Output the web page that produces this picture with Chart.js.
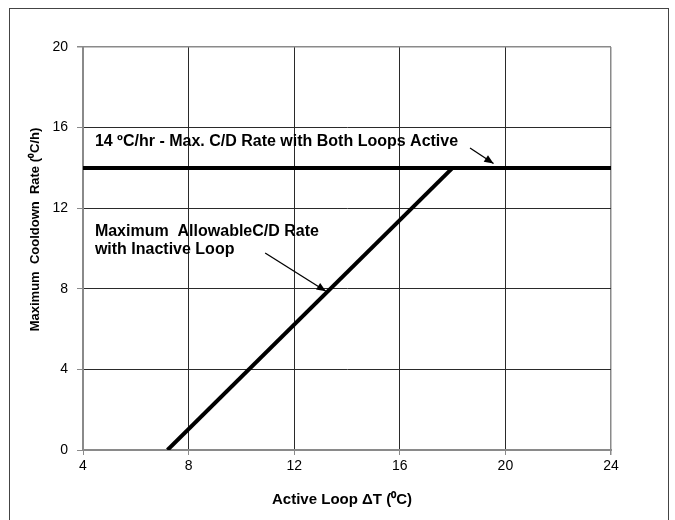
<!DOCTYPE html>
<html><head><meta charset="utf-8">
<script src="https://cdn.jsdelivr.net/npm/chart.js@4/dist/chart.umd.min.js"></script>
<style>html,body{margin:0;padding:0;background:#fff}canvas{display:block}</style>
</head><body>
<canvas id="c" width="675" height="520"></canvas>
<script>
// Data
const xTicks = [4, 8, 12, 16, 20, 24];
const yTicks = [0, 4, 8, 12, 16, 20];
const bothLoopsX = [4, 24];
const bothLoopsY = [14, 14];
const inactiveX = [7.2, 18.0];
const inactiveY = [0, 14];
const xTitle = 'Active Loop \u0394T (\u2070C)';
const yTitle = 'Maximum  Cooldown  Rate (\u2070C/h)';
const notes = [
  {lines: ['14 \u00BAC/hr - Max. C/D Rate with Both Loops Active'], x: 4.45, y: 15.1, ax: [18.66, 14.99], tip: [19.55, 14.22]},
  {lines: ['Maximum  AllowableC/D Rate', 'with Inactive Loop'], x: 4.45, y: 10.62, ax: [10.9, 9.78], tip: [13.2, 7.88]}
];

const font = 'Liberation Sans, Arial, sans-serif';
const toPts = (xs, ys) => xs.map((x, i) => ({x, y: ys[i]}));

const extras = {
  id: 'extras',
  afterDatasetsDraw(chart) {
    const {ctx, scales: {x, y}} = chart;
    ctx.save();
    ctx.fillStyle = '#000';
    ctx.strokeStyle = '#000';
    ctx.font = 'bold 16px ' + font;
    ctx.textBaseline = 'alphabetic';
    ctx.textAlign = 'left';
    notes.forEach(n => {
      n.lines.forEach((t, i) => ctx.fillText(t, x.getPixelForValue(n.x), y.getPixelForValue(n.y) + i * 18));
      const x0 = x.getPixelForValue(n.ax[0]), y0 = y.getPixelForValue(n.ax[1]);
      const x1 = x.getPixelForValue(n.tip[0]), y1 = y.getPixelForValue(n.tip[1]);
      ctx.lineWidth = 1.3;
      ctx.beginPath(); ctx.moveTo(x0, y0); ctx.lineTo(x1, y1); ctx.stroke();
      const a = Math.atan2(y1 - y0, x1 - x0), L = 10, w = 0.4;
      ctx.beginPath();
      ctx.moveTo(x1, y1);
      ctx.lineTo(x1 - L * Math.cos(a - w), y1 - L * Math.sin(a - w));
      ctx.lineTo(x1 - L * Math.cos(a + w), y1 - L * Math.sin(a + w));
      ctx.closePath(); ctx.fill();
    });
    // x axis title
    ctx.font = 'bold 15px ' + font;
    ctx.textAlign = 'center';
    ctx.textBaseline = 'alphabetic';
    ctx.fillText(xTitle, (x.left + x.right) / 2 - 5, 504);
    // y axis title (offset upward like the reference)
    ctx.font = 'bold 13px ' + font;
    ctx.textBaseline = 'middle';
    ctx.translate(35, (y.top + y.bottom) / 2 - 19);
    ctx.rotate(-Math.PI / 2);
    ctx.fillText(yTitle, 0, 0);
    ctx.restore();
  },
  afterDraw(chart) {
    const ctx = chart.ctx;
    ctx.save();
    ctx.strokeStyle = '#444';
    ctx.lineWidth = 1;
    ctx.strokeRect(9.5, 8.5, 659, 530);
    ctx.restore();
  }
};

const edgeColor = '#8a8a8a';
new Chart(document.getElementById('c'), {
  type: 'scatter',
  data: {
    datasets: [
      {data: toPts(bothLoopsX, bothLoopsY), showLine: true, borderColor: '#000', borderWidth: 4, pointRadius: 0, borderCapStyle: 'butt'},
      {data: toPts(inactiveX, inactiveY), showLine: true, borderColor: '#000', borderWidth: 4, pointRadius: 0, borderCapStyle: 'butt'}
    ]
  },
  options: {
    responsive: false,
    animation: false,
    events: [],
    layout: {padding: {left: 10, right: 64, top: 47, bottom: 10}},
    plugins: {legend: {display: false}, tooltip: {enabled: false}},
    scales: {
      x: {
        type: 'linear', min: 4, max: 24,
        afterBuildTicks: s => { s.ticks = xTicks.map(v => ({value: v})); },
        afterFit: s => { s.height = 60; },
        border: {color: edgeColor, width: 2},
        grid: {
          color: c => (c.tick && (c.tick.value === 4 || c.tick.value === 24)) ? edgeColor : '#2a2a2a',
          lineWidth: c => (c.tick && c.tick.value === 24) ? 1.5 : 1,
          tickColor: edgeColor, tickLength: 5, drawTicks: true
        },
        ticks: {color: '#000', font: {family: font, size: 14}, padding: 3},
        title: {display: false}
      },
      y: {
        type: 'linear', min: 0, max: 20,
        afterBuildTicks: s => { s.ticks = yTicks.map(v => ({value: v})); },
        afterFit: s => { s.width = 73; },
        border: {color: edgeColor, width: 2},
        grid: {
          color: c => (c.tick && (c.tick.value === 0 || c.tick.value === 20)) ? edgeColor : '#2a2a2a',
          lineWidth: c => (c.tick && c.tick.value === 20) ? 1.5 : 1,
          tickColor: edgeColor, tickLength: 6, drawTicks: true
        },
        ticks: {color: '#000', font: {family: font, size: 14}, padding: 9},
        title: {display: false}
      }
    }
  },
  plugins: [extras]
});
</script>
</body></html>
